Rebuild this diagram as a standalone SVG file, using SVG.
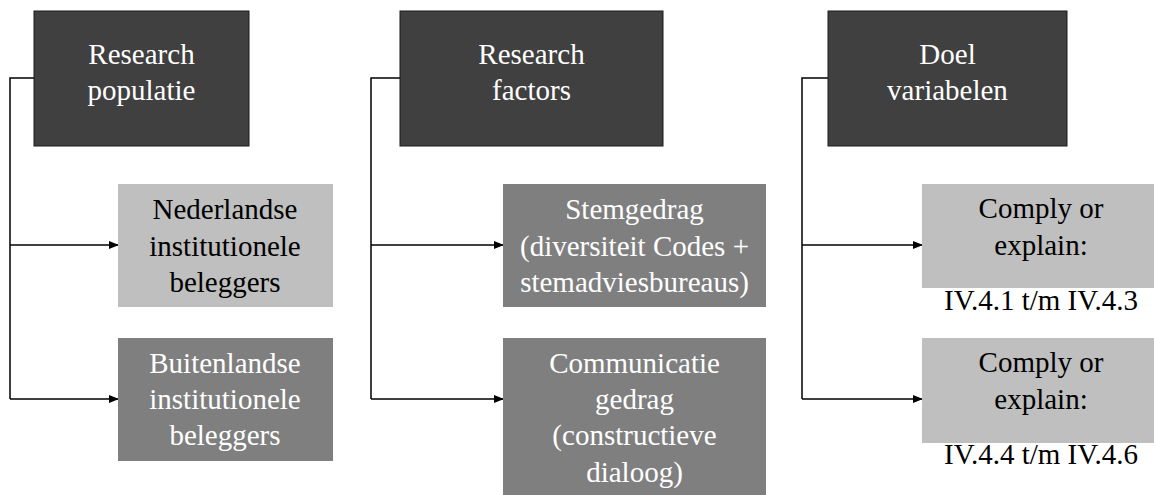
<svg xmlns="http://www.w3.org/2000/svg" width="1154" height="495" viewBox="0 0 1154 495">
<style>
.dark{fill:#404040;stroke:#1a1a1a;stroke-width:1}
.mid{fill:#7f7f7f}
.light{fill:#bfbfbf}
text{font-family:"Liberation Serif","Times New Roman",serif;font-size:29px;text-anchor:middle}
.w{fill:#ffffff}
.b{fill:#000000}
.conn{fill:none;stroke:#000;stroke-width:1.5}
</style>
<defs>
<marker id="arr" markerWidth="10" markerHeight="8" refX="9" refY="4" orient="auto" markerUnits="userSpaceOnUse">
<path d="M0,0 L10,4 L0,8 Z" fill="#000"/>
</marker>
</defs>
<g id="connectors">
<path class="conn" d="M34,78 H10 V399"/>
<path class="conn" d="M10,245 H118" marker-end="url(#arr)"/>
<path class="conn" d="M10,399 H118" marker-end="url(#arr)"/>
<path class="conn" d="M400,78 H371 V399"/>
<path class="conn" d="M371,245 H503" marker-end="url(#arr)"/>
<path class="conn" d="M371,399 H503" marker-end="url(#arr)"/>
<path class="conn" d="M828,78 H802 V399"/>
<path class="conn" d="M802,245 H922" marker-end="url(#arr)"/>
<path class="conn" d="M802,399 H922" marker-end="url(#arr)"/>
</g>
<g id="research-populatie">
<rect class="dark" x="34" y="11" width="215" height="135"/>
<text class="w" x="141.5" y="64">Research</text>
<text class="w" x="141.5" y="100">populatie</text>
</g>
<g id="nederlandse">
<rect class="light" x="118" y="184" width="215" height="123"/>
<text class="b" x="225" y="219">Nederlandse</text>
<text class="b" x="225" y="256">institutionele</text>
<text class="b" x="225" y="292">beleggers</text>
</g>
<g id="buitenlandse">
<rect class="mid" x="118" y="338" width="215" height="123"/>
<text class="w" x="225" y="373">Buitenlandse</text>
<text class="w" x="225" y="409">institutionele</text>
<text class="w" x="225" y="445">beleggers</text>
</g>
<g id="research-factors">
<rect class="dark" x="400" y="11" width="263" height="135"/>
<text class="w" x="531.5" y="64">Research</text>
<text class="w" x="531.5" y="100">factors</text>
</g>
<g id="stemgedrag">
<rect class="mid" x="503" y="184" width="263" height="123"/>
<text class="w" x="634.5" y="219">Stemgedrag</text>
<text class="w" x="634.5" y="256">(diversiteit Codes +</text>
<text class="w" x="634.5" y="292">stemadviesbureaus)</text>
</g>
<g id="communicatie">
<rect class="mid" x="503" y="338" width="263" height="157"/>
<text class="w" x="634.5" y="373">Communicatie</text>
<text class="w" x="634.5" y="409">gedrag</text>
<text class="w" x="634.5" y="445">(constructieve</text>
<text class="w" x="634.5" y="482">dialoog)</text>
</g>
<g id="doel-variabelen">
<rect class="dark" x="828" y="11" width="239" height="135"/>
<text class="w" x="947.5" y="64">Doel</text>
<text class="w" x="947.5" y="100">variabelen</text>
</g>
<g id="comply1">
<rect class="light" x="922" y="184" width="232" height="104"/>
<text class="b" x="1041" y="218">Comply or</text>
<text class="b" x="1041" y="255">explain:</text>
<text class="b" x="1041" y="310">IV.4.1 t/m IV.4.3</text>
</g>
<g id="comply2">
<rect class="light" x="922" y="338" width="232" height="105"/>
<text class="b" x="1041" y="372">Comply or</text>
<text class="b" x="1041" y="409">explain:</text>
<text class="b" x="1041" y="464">IV.4.4 t/m IV.4.6</text>
</g>
</svg>
